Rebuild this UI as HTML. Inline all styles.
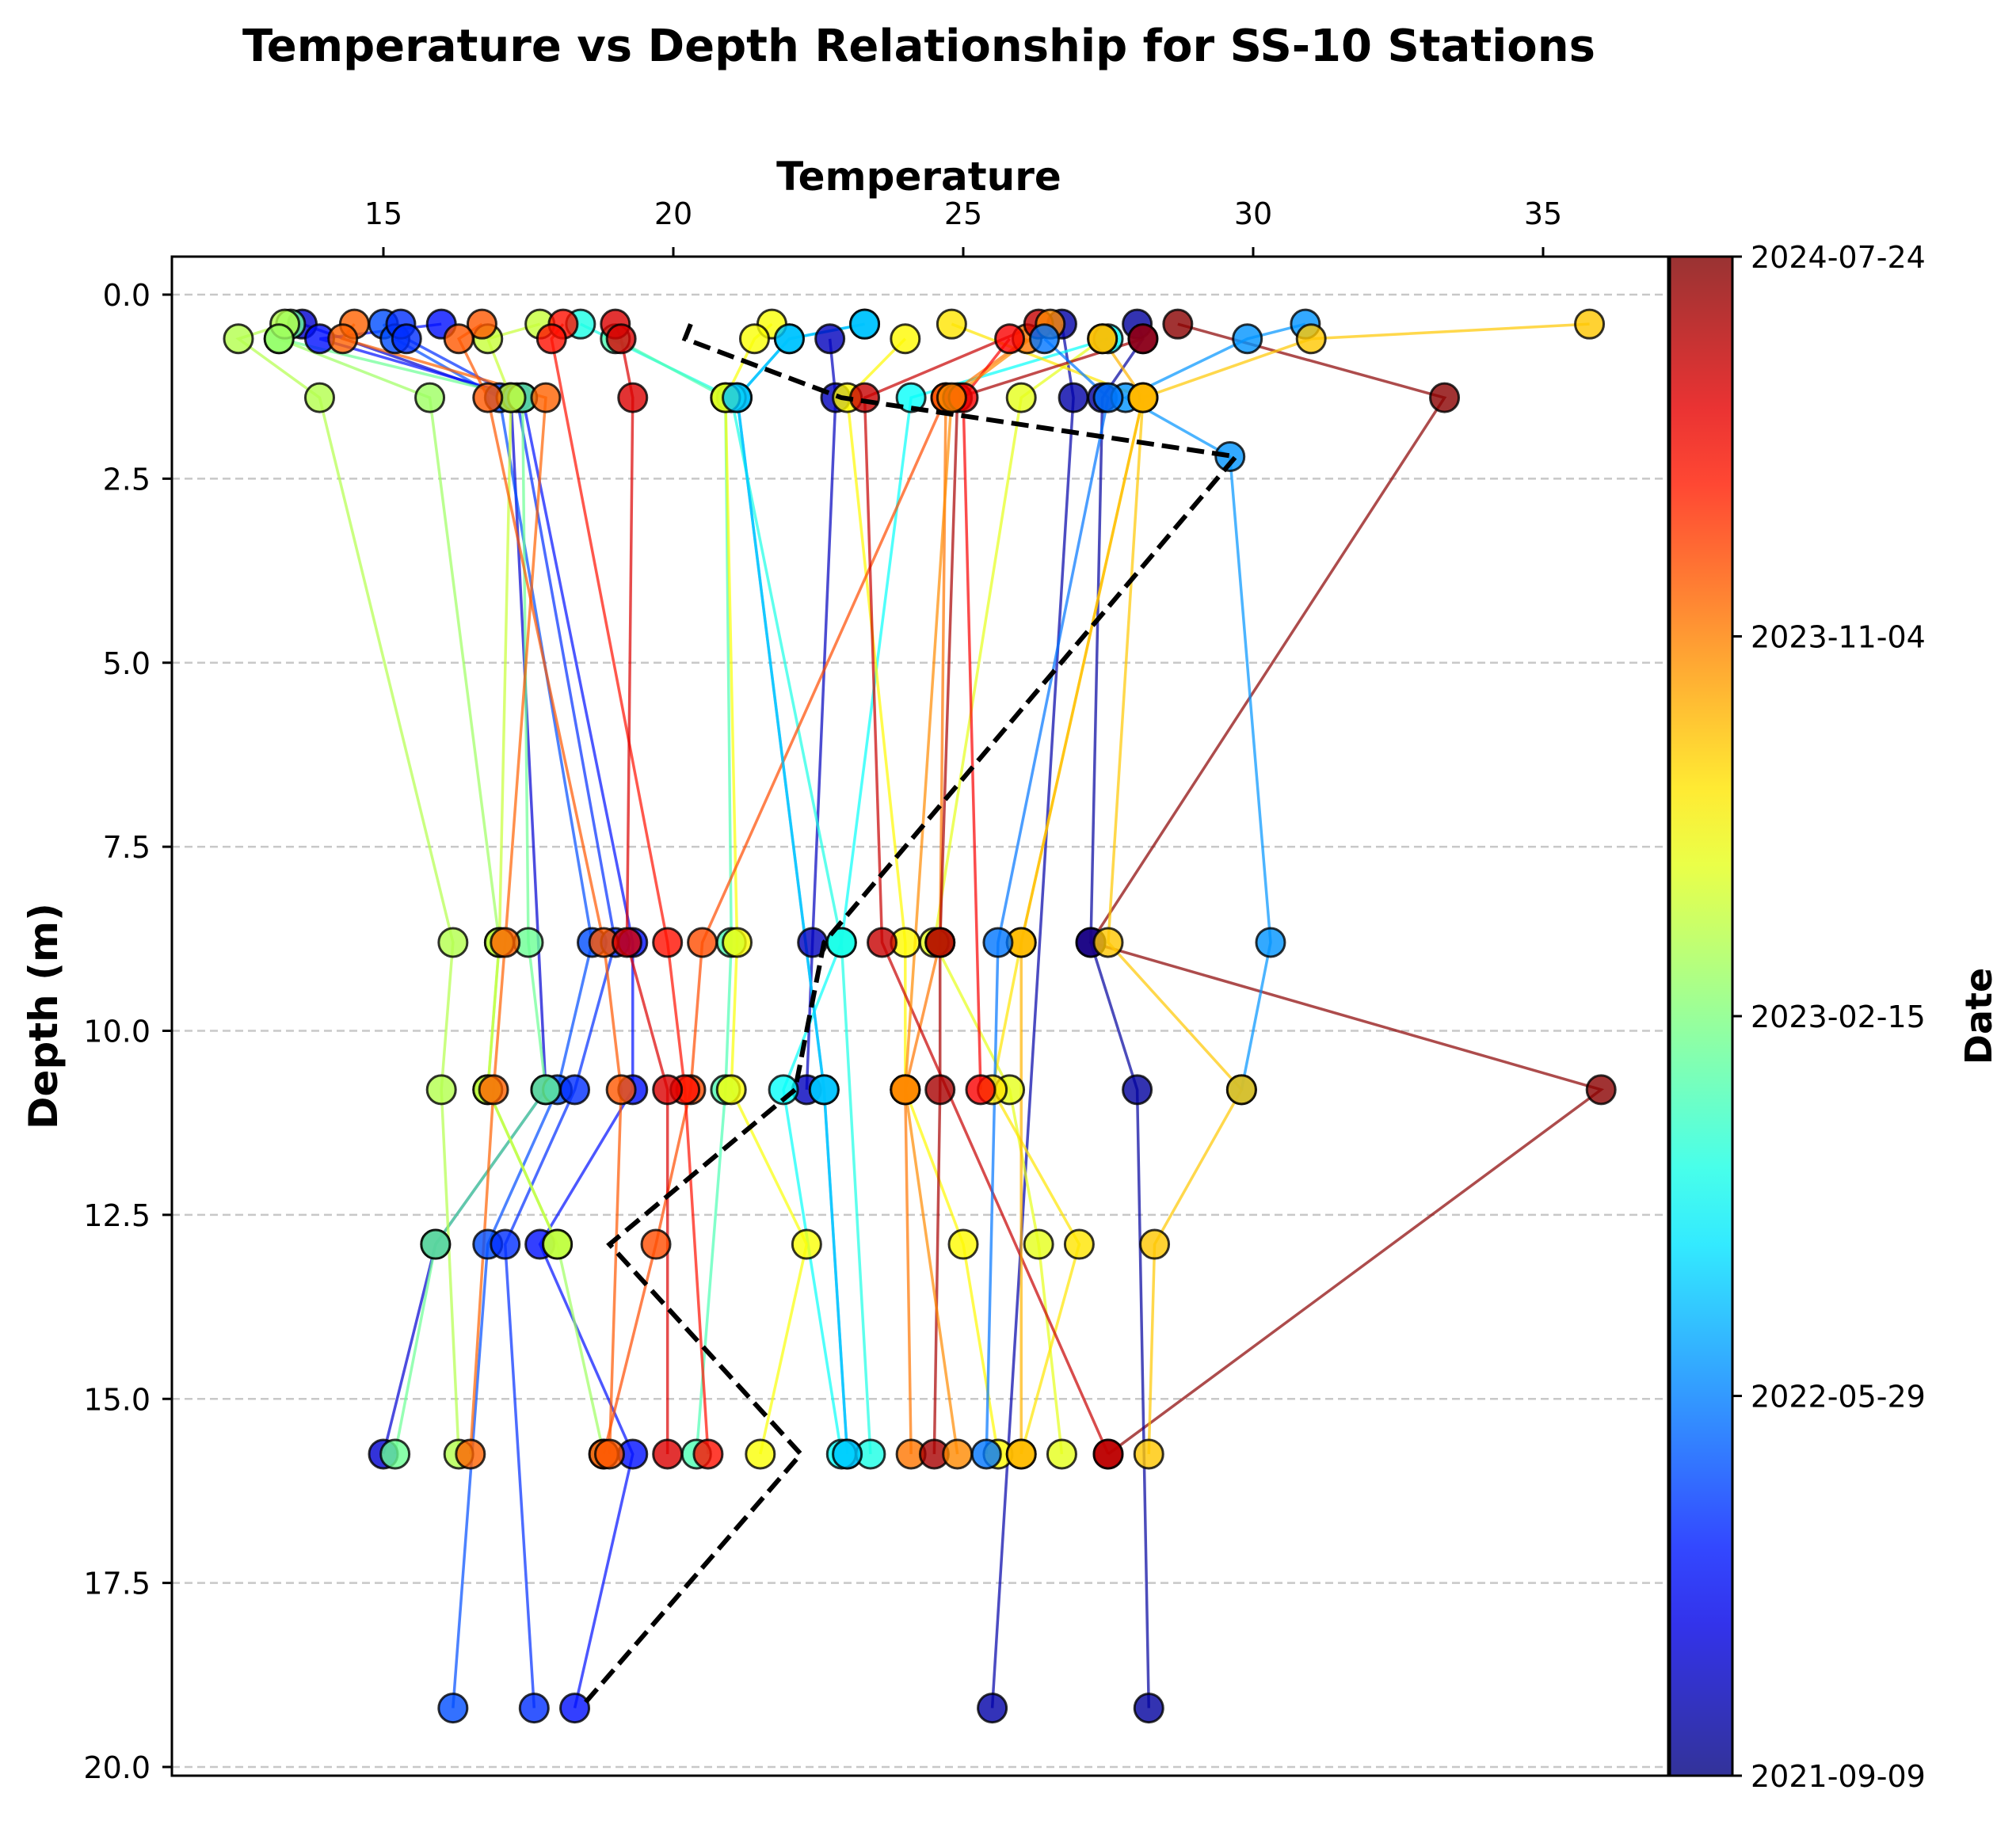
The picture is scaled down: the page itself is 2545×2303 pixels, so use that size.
<!DOCTYPE html>
<html><head><meta charset="utf-8"><style>
html,body{margin:0;padding:0;background:#fff;}
svg text{font-family:"DejaVu Sans","Liberation Sans",sans-serif;}
</style></head><body>
<svg id="chart" width="2545" height="2298" viewBox="0 0 2545 2298" xmlns="http://www.w3.org/2000/svg">
<defs>
<linearGradient id="jet" x1="0" y1="1" x2="0" y2="0"></linearGradient>
<clipPath id="plotclip"><rect x="217" y="324" width="1889" height="1918"/></clipPath>
</defs>
<rect x="0" y="0" width="2545" height="2298" fill="#fff"/>
<text x="1160" y="77" font-size="56" font-weight="bold" text-anchor="middle">Temperature vs Depth Relationship for SS-10 Stations</text>
<text x="1160" y="240" font-size="50" font-weight="bold" text-anchor="middle">Temperature</text>
<text x="0" y="0" font-size="50" font-weight="bold" text-anchor="middle" transform="translate(72,1283) rotate(-90)">Depth (m)</text>
<g id="grid"></g>
<g id="series" clip-path="url(#plotclip)"></g>
<rect x="217" y="324" width="1889" height="1918" fill="none" stroke="#000" stroke-width="3"/>
<g id="axes"></g>
<rect x="2108" y="324" width="79" height="1918" fill="url(#jet)" stroke="#000" stroke-width="3"/>
<g id="cbticks"></g>
<text x="0" y="0" font-size="46" font-weight="bold" text-anchor="middle" transform="translate(2514,1283) rotate(-90)">Date</text>
</svg>
<script>
const xTicks = [15, 20, 25, 30, 35];
const yTicks = [0, 2.5, 5, 7.5, 10, 12.5, 15, 17.5, 20];
const cbLabels = ["2021-09-09", "2022-05-29", "2023-02-15", "2023-11-04", "2024-07-24"];
const cbFracs = [0, 0.25, 0.5, 0.75, 1];
const meanDepths = [0.4, 0.6, 1.4, 2.2, 8.8, 10.8, 12.9, 15.75, 19.2];
const meanTemps = [20.3, 20.2, 22.9, 29.7, 22.6, 22.1, 18.9, 22.2, 18.4];
const profileDates = [0.99, 0.03, 0.04, 0.06, 0.08, 0.20, 0.17, 0.14, 0.30, 0.27, 0.38, 0.40, 0.48, 0.45, 0.55, 0.53, 0.57, 0.62, 0.63, 0.60, 0.65, 0.68, 0.76, 0.78, 0.80, 0.79, 0.86, 0.91, 0.93, 0.96, 0.88, 0.74, 0.70, 0.32, 0.24];
const profileDepths = [
 [0.4,1.4,8.8,10.8,15.75],
 [0.4,0.6,1.4,8.8,10.8,19.2],
 [0.4,1.4,19.2],
 [0.6,1.4,8.8,10.8],
 [0.4,1.4,10.8,12.9,15.75],
 [0.4,0.6,1.4,8.8,10.8,12.9,19.2],
 [0.4,0.6,1.4,8.8,10.8,12.9,19.2],
 [0.4,0.6,1.4,8.8,10.8,12.9,15.75,19.2],
 [0.4,0.6,1.4,10.8,15.75],
 [0.4,0.6,1.4,2.2,8.8,10.8],
 [0.6,1.4,8.8,10.8,15.75],
 [0.4,1.4,8.8,15.75],
 [0.4,0.6,1.4,8.8,10.8,12.9,15.75],
 [0.6,1.4,8.8,10.8,15.75],
 [0.4,0.6,1.4,8.8,10.8,15.75],
 [0.6,1.4,8.8,10.8,12.9,15.75],
 [0.4,0.6,1.4,8.8,10.8,12.9],
 [0.4,0.6,1.4,8.8,10.8,12.9,15.75],
 [0.6,1.4,8.8,10.8,12.9,15.75],
 [0.6,1.4,8.8,10.8,12.9,15.75],
 [0.4,1.4,8.8,10.8,12.9,15.75],
 [0.4,0.6,1.4,8.8,10.8,12.9,15.75],
 [0.6,1.4,8.8,10.8,15.75],
 [0.4,0.6,1.4,8.8,10.8,15.75],
 [1.4,8.8,10.8,12.9,15.75],
 [0.4,0.6,1.4,8.8,10.8,15.75],
 [0.4,0.6,8.8,10.8,15.75],
 [0.4,0.6,1.4,8.8,10.8,15.75],
 [0.4,1.4,8.8,15.75],
 [0.6,1.4,8.8,10.8,15.75],
 [0.6,1.4,10.8],
 [0.4,1.4,10.8,15.75],
 [0.6,1.4,8.8,15.75],
 [0.4,0.6,1.4,10.8,15.75],
 [0.6,1.4,8.8,15.75]
];
const profileTemps = [
 [28.7,33.3,27.2,36.0,27.5],
 [28.0,28.1,27.4,27.2,28.0,28.2],
 [26.7,26.9,25.5],
 [22.7,22.8,22.4,22.3],
 [13.6,17.2,17.8,15.9,15.0],
 [15.0,15.2,17.0,18.6,18.0,16.8,16.2],
 [15.3,15.4,17.3,19.0,18.3,17.1,17.6],
 [16.0,13.9,17.4,19.3,19.3,17.7,19.3,18.3],
 [23.3,22.0,21.1,22.6,23.0],
 [30.9,29.9,27.8,29.6,30.3,29.8],
 [27.5,24.1,22.9,21.9,22.9],
 [18.4,21.0,22.9,23.4],
 [13.4,13.2,17.4,17.5,17.8,15.9,15.2],
 [19.0,20.9,21.0,20.9,20.4],
 [13.3,12.5,13.9,16.2,16.0,16.3],
 [13.2,15.8,17.0,16.8,18.0,18.8],
 [17.7,16.8,17.2,17.0,16.8,18.0],
 [21.7,21.4,20.9,21.1,21.0,22.3,21.5],
 [24.0,23.0,24.0,24.0,25.0,25.6],
 [27.4,26.0,24.5,25.8,26.3,26.7],
 [24.8,28.1,26.0,25.5,27.0,26.0],
 [35.8,31.0,28.1,27.5,29.8,28.3,28.2],
 [26.1,24.7,24.6,24.0,24.1],
 [14.5,14.3,17.8,17.1,16.9,16.5],
 [24.7,20.5,20.3,19.7,18.8],
 [16.7,16.3,16.8,18.8,19.1,18.9],
 [18.1,17.9,19.9,20.2,20.6],
 [19.0,19.1,19.3,19.2,19.9,19.9],
 [26.3,23.3,23.6,27.5],
 [28.1,24.9,24.6,24.6,24.5],
 [25.8,25.0,25.3],
 [26.5,24.8,24.0,24.9],
 [27.4,28.1,26.0,26.0],
 [23.3,22.0,21.1,22.6,23.0],
 [26.4,27.5,25.6,25.4]
];

const NS = "http://www.w3.org/2000/svg";
function X(t){ return 484 + (t - 15) * 73.2; }
function Y(d){ return 372 + d * 92.95; }
function clip(v){ return Math.max(0, Math.min(1, v)); }
function jet(f){
  const r = clip(1.5 - Math.abs(4*f - 3)), g = clip(1.5 - Math.abs(4*f - 2)), b = clip(1.5 - Math.abs(4*f - 1));
  return "rgb(" + Math.round(r*255) + "," + Math.round(g*255) + "," + Math.round(b*255) + ")";
}
function mk(tag, attrs, parent){
  const e = document.createElementNS(NS, tag);
  for (const k in attrs) e.setAttribute(k, attrs[k]);
  parent.appendChild(e);
  return e;
}
const grad = document.getElementById("jet");
for (let i = 0; i <= 20; i++) {
  mk("stop", {offset: (i/20), "stop-color": jet(i/20), "stop-opacity": 0.8}, grad);
}
const grid = document.getElementById("grid");
const axes = document.getElementById("axes");
yTicks.forEach(v => {
  const gl = mk("line", {x1: 217, x2: 2106, y1: Y(v), y2: Y(v), stroke: "#bbb", "stroke-width": 2.5, "stroke-dasharray": "10,6", opacity: 0.8}, grid);
  
  
  const tk = mk("line", {x1: 205, x2: 217, y1: Y(v), y2: Y(v), stroke: "#000", "stroke-width": 3}, axes);
  
  
  const tl = mk("text", {x: 190, y: Y(v) + 14, "font-size": 38, "text-anchor": "end"}, axes);
  
  
  tl.textContent = v.toFixed(1);
});
xTicks.forEach(v => {
  const tk = mk("line", {x1: X(v), x2: X(v), y1: 312, y2: 324, stroke: "#000", "stroke-width": 3}, axes);
  
  
  const tl = mk("text", {x: X(v), y: 283, "font-size": 38, "text-anchor": "middle"}, axes);
  
  
  tl.textContent = v;
});
const cbt = document.getElementById("cbticks");
cbFracs.forEach((f, i) => {
  const yy = 2242 - f * 1918;
  const tk = mk("line", {x1: 2187, x2: 2199, y1: yy, y2: yy, stroke: "#000", "stroke-width": 3}, cbt);
  
  
  const tl = mk("text", {x: 2210, y: yy + 14, "font-size": 38}, cbt);
  
  
  tl.textContent = cbLabels[i];
});
const series = document.getElementById("series");
profileDates.forEach((f, i) => {
  const pts = profileDepths[i].map((d, j) => X(profileTemps[i][j]) + "," + Y(d)).join(" ");
  const pl = mk("polyline", {points: pts, fill: "none", stroke: jet(f), "stroke-width": 3.5, opacity: 0.7}, series);
  
  
});
profileDates.forEach((f, i) => {
  profileDepths[i].forEach((d, j) => {
    const c = mk("circle", {cx: X(profileTemps[i][j]), cy: Y(d), r: 18, fill: jet(f), "fill-opacity": 0.8, stroke: "#000", "stroke-opacity": 0.8, "stroke-width": 3}, series);
    
    
  });
});
const mpts = meanDepths.map((d, j) => X(meanTemps[j]) + "," + Y(d)).join(" ");
const ml = mk("polyline", {points: mpts, fill: "none", stroke: "#000", "stroke-width": 6, "stroke-dasharray": "22,10"}, series);


</script>
</body></html>
